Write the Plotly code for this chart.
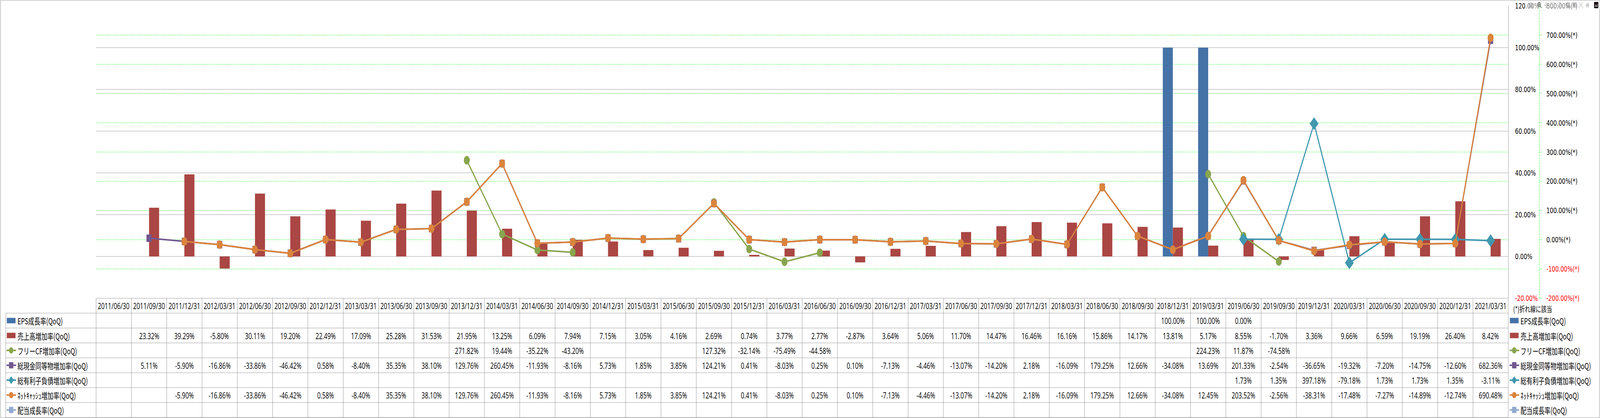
import plotly.graph_objects as go

# ---------------- data ----------------
dates = ["2011/06/30", "2011/09/30", "2011/12/31", "2012/03/31", "2012/06/30", "2012/09/30",
         "2012/12/31", "2013/03/31", "2013/06/30", "2013/09/30", "2013/12/31", "2014/03/31",
         "2014/06/30", "2014/09/30", "2014/12/31", "2015/03/31", "2015/06/30", "2015/09/30",
         "2015/12/31", "2016/03/31", "2016/06/30", "2016/09/30", "2016/12/31", "2017/03/31",
         "2017/06/30", "2017/09/30", "2017/12/31", "2018/03/31", "2018/06/30", "2018/09/30",
         "2018/12/31", "2019/03/31", "2019/06/30", "2019/09/30", "2019/12/31", "2020/03/31",
         "2020/06/30", "2020/09/30", "2020/12/31", "2021/03/31"]

eps = [None, None, None, None, None, None, None, None, None, None,
       None, None, None, None, None, None, None, None, None, None,
       None, None, None, None, None, None, None, None, None, None,
       100.00, 100.00, 0.00, None, None, None, None, None, None, None]

sales = [None, 23.32, 39.29, -5.80, 30.11, 19.20, 22.49, 17.09, 25.28, 31.53,
         21.95, 13.25, 6.09, 7.94, 7.15, 3.05, 4.16, 2.69, 0.74, 3.77,
         2.77, -2.87, 3.64, 5.06, 11.70, 14.47, 16.46, 16.16, 15.86, 14.17,
         13.81, 5.17, 8.55, -1.70, 3.36, 9.66, 6.59, 19.19, 26.40, 8.42]

fcf = [None, None, None, None, None, None, None, None, None, None,
       271.82, 19.44, -35.22, -43.20, None, None, None, 127.32, -32.14, -75.49,
       -44.58, None, None, None, None, None, None, None, None, None,
       None, 224.23, 11.87, -74.58, None, None, None, None, None, None]

cash = [None, 5.11, -5.90, -16.86, -33.86, -46.42, 0.58, -8.40, 35.35, 38.10,
        129.76, 260.45, -11.93, -8.16, 5.73, 1.85, 3.85, 124.21, 0.41, -8.03,
        0.25, 0.10, -7.13, -4.46, -13.07, -14.20, 2.18, -16.09, 179.25, 12.66,
        -34.08, 13.69, 201.33, -2.54, -36.65, -19.32, -7.20, -14.75, -12.60, 682.36]

debt = [None, None, None, None, None, None, None, None, None, None,
        None, None, None, None, None, None, None, None, None, None,
        None, None, None, None, None, None, None, None, None, None,
        None, None, 1.73, 1.35, 397.18, -79.18, 1.73, 1.73, 1.35, -3.11]

netcash = [None, None, -5.90, -16.86, -33.86, -46.42, 0.58, -8.40, 35.35, 38.10,
           129.76, 260.45, -11.93, -8.16, 5.73, 1.85, 3.85, 124.21, 0.41, -8.03,
           0.25, 0.10, -7.13, -4.46, -13.07, -14.20, 2.18, -16.09, 179.25, 12.66,
           -34.08, 12.45, 203.52, -2.56, -38.31, -17.48, -7.27, -14.89, -12.74, 690.48]

dividend = [None, None, None, None, None, None, None, None, None, None,
            None, None, None, None, None, None, None, None, None, None,
            None, None, None, None, None, None, None, None, None, None,
            None, None, None, None, None, None, None, None, None, None]

series_names = ["EPS成長率(QoQ)", "売上高増加率(QoQ)", "フリーCF増加率(QoQ)",
                "総現金同等物増加率(QoQ)", "総有利子負債増加率(QoQ)",
                "ﾈｯﾄｷｬｯｼｭ増加率(QoQ)", "配当成長率(QoQ)"]
series_values = [eps, sales, fcf, cash, debt, netcash, dividend]

y1_ticks = [-20, 0, 20, 40, 60, 80, 100, 120]
y2_ticks = [-200, -100, 0, 100, 200, 300, 400, 500, 600, 700, 800]
note_text = "(*)折れ線に該当"

# ---------------- styles ----------------
colors = ["#4572A7", "#AA4643", "#89A54E", "#71588F", "#4198AF", "#DB843D", "#93A9CF"]
kinds = ["bar", "bar", "circle", "square", "diamond", "circle", "square"]
GRID = "#8C8C8C"
GREEN = "#00FF00"
W, H = 5877, 1071
ML, MT = 353, 15
PW, PH = W - ML, H - MT
XD = (5540 - ML) / PW               # x domain end
YB = (H - 764) / PH                 # main y domain bottom
Y3T = (H - 763) / PH                # table axis top
Y3R = [8.04, -0.03]
Y3U = (Y3R[0] - Y3R[1]) / (H - 763)  # y3 units per px
P2 = (5654 - ML) / PW               # secondary axis position
TFONT = "Open Sans, Noto Sans CJK JP, sans-serif"
JFONT = "Noto Sans CJK JP, Noto Sans, sans-serif"
AFONT = "DejaVu Sans, sans-serif"


def px(xp):
    return (xp - ML) / PW


def fmt(v):
    return "" if v is None else f"{v:.2f}%"


def red(s):
    return f'<span style="color:#FF0000">{s}</span>'


fig = go.Figure()

for i in (0, 1):
    fig.add_trace(go.Bar(x=dates, y=series_values[i], name=series_names[i],
                         marker=dict(color=colors[i], line=dict(width=0)),
                         xaxis="x", yaxis="y"))

msym = {"circle": "circle", "square": "square", "diamond": "diamond"}
msize = {"circle": 22, "square": 19, "diamond": 25}
for i in range(2, 7):
    fig.add_trace(go.Scatter(x=dates, y=series_values[i], name=series_names[i],
                             mode="lines+markers", connectgaps=False,
                             line=dict(color=colors[i], width=4),
                             marker=dict(symbol=msym[kinds[i]], size=msize[kinds[i]],
                                         color=colors[i], line=dict(width=0)),
                             xaxis="x", yaxis="y2"))

y1_text = [red(f"{v:.2f}%") if v < 0 else f"{v:.2f}%" for v in y1_ticks]
y2_text = [red(f"{v:.2f}%(*)") if v < 0 else f"{v:.2f}%(*)" for v in y2_ticks]

shapes = []
annotations = []

LC = dict(color=GRID, width=1)
for k in range(0, 9):
    x0 = 0 if k == 0 else px(21)
    shapes.append(dict(type="line", xref="paper", yref="y3", x0=x0, x1=XD, y0=k, y1=k, line=LC))
for i in range(1, len(dates)):
    shapes.append(dict(type="line", xref="x", yref="y3", x0=i - 0.5, x1=i - 0.5, y0=0, y1=8, line=LC))
shapes.append(dict(type="line", xref="paper", yref="y3", x0=0, x1=0, y0=0, y1=8, line=LC))
shapes.append(dict(type="line", xref="paper", yref="y3", x0=XD, x1=XD, y0=0, y1=8, line=LC))
shapes.append(dict(type="line", xref="paper", yref="y3", x0=px(21), x1=px(21), y0=1, y1=8, line=LC))

shapes.append(dict(type="rect", xref="paper", yref="paper", x0=px(2), x1=px(5875),
                   y0=(H - 1070) / PH, y1=(H - 0.5) / PH, line=dict(color=GRID, width=1),
                   fillcolor="rgba(0,0,0,0)"))

shapes.append(dict(type="line", xref="paper", yref="y2", x0=P2, x1=P2, y0=-200, y1=800,
                   line=dict(color=GREEN, width=1, dash="4px,3px")))

for i, d in enumerate(dates):
    annotations.append(dict(x=d, y=0.5, xref="x", yref="y3", text=d, showarrow=False,
                            font=dict(family=TFONT, size=22, color="black"),
                            xanchor="center", yanchor="middle"))
for r, vals in enumerate(series_values):
    for i, v in enumerate(vals):
        if v is None:
            continue
        annotations.append(dict(x=dates[i], y=r + 1.5, xref="x", yref="y3", text=fmt(v),
                                showarrow=False, font=dict(family=TFONT, size=22, color="black"),
                                xanchor="center", yanchor="middle"))


def add_icon(cx, yc, kind, color):
    hy = 7 * Y3U
    if kind == "bar":
        shapes.append(dict(type="rect", xref="paper", yref="y3", x0=px(cx - 16), x1=px(cx + 16),
                           y0=yc - hy, y1=yc + hy, fillcolor=color, line=dict(width=0)))
        return
    shapes.append(dict(type="line", xref="paper", yref="y3", x0=px(cx - 17), x1=px(cx + 18),
                       y0=yc, y1=yc, line=dict(color=color, width=4)))
    r = 8
    if kind == "circle":
        shapes.append(dict(type="circle", xref="paper", yref="y3", x0=px(cx - r), x1=px(cx + r),
                           y0=yc - r * Y3U, y1=yc + r * Y3U, fillcolor=color, line=dict(width=0)))
    elif kind == "square":
        shapes.append(dict(type="rect", xref="paper", yref="y3", x0=px(cx - r), x1=px(cx + r),
                           y0=yc - r * Y3U, y1=yc + r * Y3U, fillcolor=color, line=dict(width=0)))
    else:
        rr = 10
        path = (f"M {px(cx)},{yc - rr * Y3U} L {px(cx + rr)},{yc} L {px(cx)},{yc + rr * Y3U} "
                f"L {px(cx - rr)},{yc} Z")
        shapes.append(dict(type="path", xref="paper", yref="y3", path=path,
                           fillcolor=color, line=dict(width=0)))


for r, name in enumerate(series_names):
    yc = r + 1.5
    add_icon(41, yc, kinds[r], colors[r])
    annotations.append(dict(x=px(62), y=yc, xref="paper", yref="y3", text=name, showarrow=False,
                            font=dict(family=JFONT, size=22, color="black"),
                            xanchor="left", yanchor="middle"))
    add_icon(5562, yc, kinds[r], colors[r])
    annotations.append(dict(x=px(5583), y=yc, xref="paper", yref="y3", text=name, showarrow=False,
                            font=dict(family=JFONT, size=22, color="black"),
                            xanchor="left", yanchor="middle"))

annotations.append(dict(x=px(5556), y=(792 - 763) * Y3U + Y3R[1], xref="paper", yref="y3",
                        text=note_text, showarrow=False,
                        font=dict(family=JFONT, size=20, color="black"),
                        xanchor="left", yanchor="middle"))

fig.update_layout(
    width=W, height=H,
    margin=dict(l=ML, r=0, t=MT, b=0, pad=0),
    paper_bgcolor="white", plot_bgcolor="white",
    showlegend=False,
    barmode="group", bargap=0.43, bargroupgap=0,
    xaxis=dict(type="category", categoryorder="array", categoryarray=dates,
               domain=[0, XD], range=[-0.5, len(dates) - 0.5],
               showticklabels=False, showgrid=False, zeroline=False, showline=False,
               ticks="", anchor="y"),
    yaxis=dict(domain=[YB, 1], range=[y1_ticks[0], y1_ticks[-1]], side="right", anchor="x",
               tickmode="array", tickvals=y1_ticks, ticktext=y1_text,
               showgrid=True, gridcolor=GRID, gridwidth=1, zeroline=False,
               showline=True, linecolor=GRID, linewidth=1, ticks="",
               ticklabelstandoff=20, automargin=False,
               tickfont=dict(family=AFONT, size=20, color="black")),
    yaxis2=dict(overlaying="y", anchor="free", position=P2, side="right",
                range=[y2_ticks[0], y2_ticks[-1]],
                tickmode="array", tickvals=y2_ticks, ticktext=y2_text,
                showgrid=True, gridcolor=GREEN, gridwidth=1, griddash="5px,3px",
                zeroline=False, showline=False,
                ticks="outside", ticklen=9, tickcolor=GREEN, tickwidth=1,
                ticklabelstandoff=12, automargin=False,
                tickfont=dict(family=AFONT, size=20, color="black")),
    yaxis3=dict(domain=[0, Y3T], range=Y3R, anchor="x", visible=False, fixedrange=True),
    shapes=shapes,
    annotations=annotations,
)

# Fit the fixed-size figure into the actual browser viewport (the window may be
# narrower than the requested width): scale horizontally only when needed.
post = """
document.body.style.margin = '0';
document.body.style.overflow = 'hidden';
var gd = document.getElementById('{plot_id}');
var sx = window.innerWidth / %d;
var sy = window.innerHeight / %d;
if (sx < 0.999 || sy < 0.999) {
    gd.style.transformOrigin = '0 0';
    gd.style.transform = 'scale(' + Math.min(sx, 1) + ',' + Math.min(sy, 1) + ')';
}
""" % (W, H)

fig.write_html("out.html", post_script=post)
